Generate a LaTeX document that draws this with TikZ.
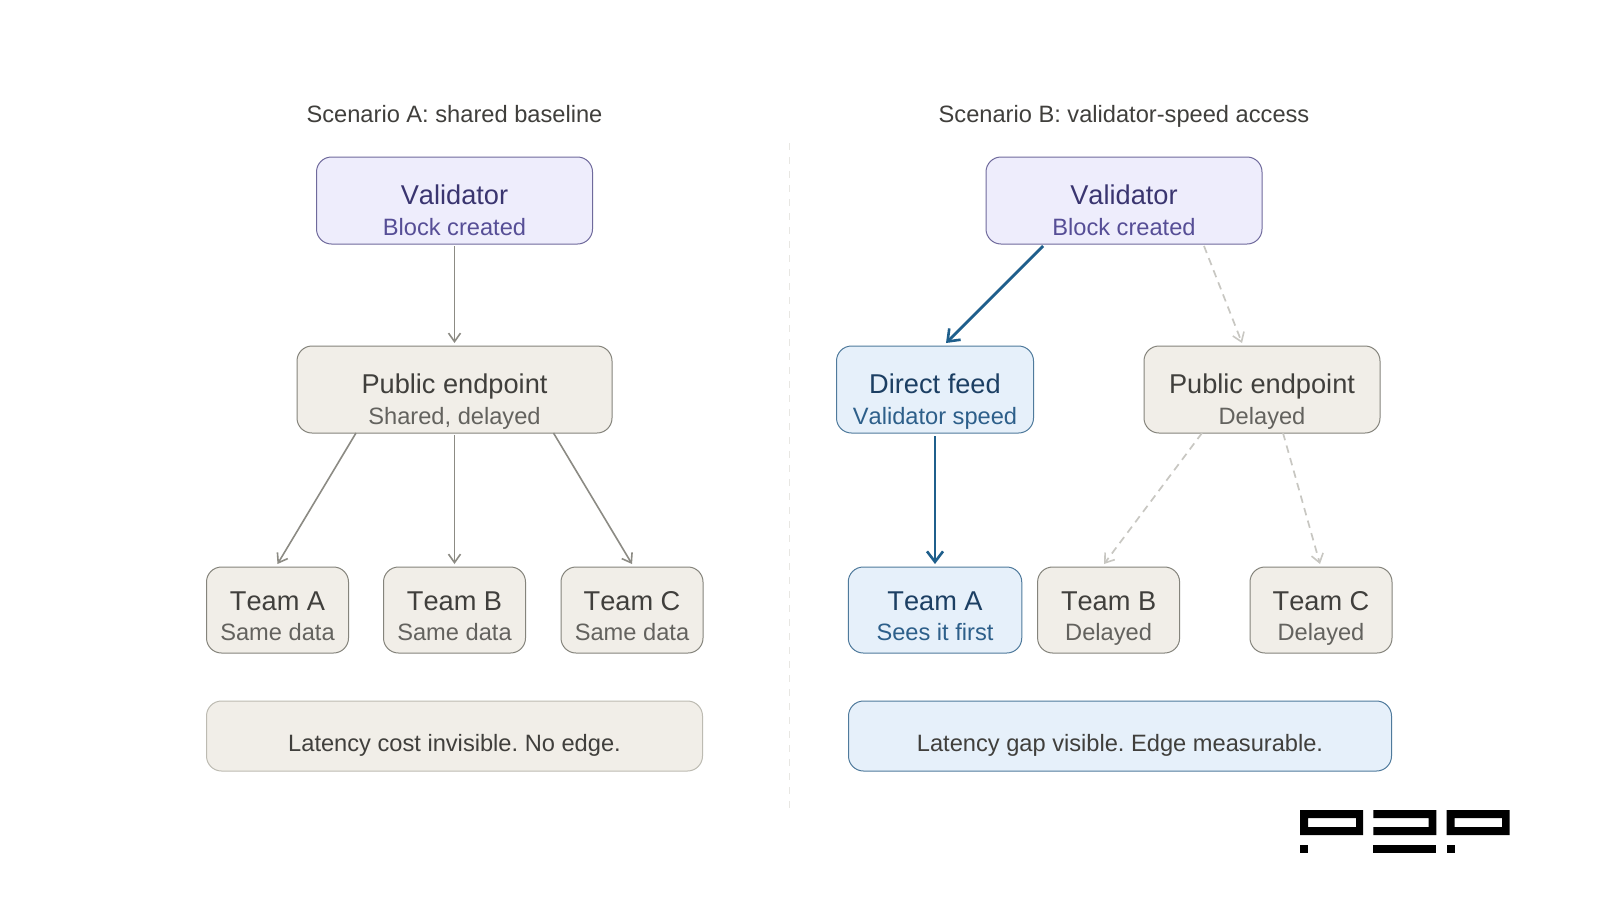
\documentclass[tikz,border=0pt]{standalone}
\usepackage{fontspec}
\setmainfont[Kerning=Off]{Liberation Sans}
\frenchspacing
\usetikzlibrary{arrows.meta}
\definecolor{pfill}{HTML}{EEEDFC}\definecolor{pline}{HTML}{6F6A9C}\definecolor{pmain}{HTML}{3A3570}\definecolor{psub}{HTML}{564E96}
\definecolor{gfill}{HTML}{F1EEE8}\definecolor{gline}{HTML}{85847C}\definecolor{gmain}{HTML}{403F3C}\definecolor{gsub}{HTML}{63625E}
\definecolor{bfill}{HTML}{E6F0FA}\definecolor{bline}{HTML}{4F7A9C}\definecolor{bmain}{HTML}{1C3F63}\definecolor{bsub}{HTML}{2D5F8A}\definecolor{barrow}{HTML}{1F5F8C}
\definecolor{noteline}{HTML}{BDBBB2}\definecolor{arr}{HTML}{8C8B84}\definecolor{dashc}{HTML}{C8C7C2}\definecolor{divider}{HTML}{E8E7E3}
\newcommand{\twolines}[7]{{\rule{0pt}{#5pt}\color{#1}\fontsize{27.2}{#7}\selectfont #3}\\{\color{#2}\fontsize{23.65}{#7}\selectfont #4\rule[-#6pt]{0pt}{#6pt}}}
\tikzset{
 x=1pt,y=-1pt,
 boxbase/.style={rounded corners=15pt,inner ysep=0pt,inner xsep=0pt,outer sep=0pt,align=center,anchor=north,line width=1pt,font=\fontsize{27.2}{31}\selectfont},
 teambase/.style={boxbase,font=\fontsize{27.2}{30}\selectfont},
 purplebox/.style={boxbase,fill=pfill,draw=pline},
 graybox/.style={boxbase,fill=gfill,draw=gline},
 bluebox/.style={boxbase,fill=bfill,draw=bline},
 grayteam/.style={teambase,fill=gfill,draw=gline},
 blueteam/.style={teambase,fill=bfill,draw=bline},
 notebox/.style={rounded corners=15pt,outer sep=0pt,anchor=north,line width=1pt,minimum height=70pt,inner sep=0pt},
 titletext/.style={font=\fontsize{23.65}{28}\selectfont,text=gmain,anchor=base,inner sep=0pt},
 notetext/.style={font=\fontsize{23.65}{28}\selectfont,text=gmain,anchor=base,inner sep=0pt},
 solidarrow/.style={draw=arr,line width=1.6pt,-{Straight Barb[length=8.5pt,width=12pt,line width=1.6pt]}},
 bluearrow/.style={draw=barrow,line width=2.8pt,-{Straight Barb[length=10.5pt,width=16pt,line width=2.6pt]}},
 dasharrow/.style={draw=dashc,line width=1.7pt,dash pattern=on 7.5pt off 5.5pt,-{Straight Barb[length=8.5pt,width=12pt,line width=1.6pt]}},
 dividerline/.style={draw=divider,line width=1pt,dash pattern=on 7pt off 7pt},
}
\begin{document}
\begin{tikzpicture}
\useasboundingbox (0,0) rectangle (1600,900);
\fill[white] (0,0) rectangle (1600,900);
% titles
\node[titletext] (ta) at (454.5,122) {Scenario A: shared baseline};
\node[titletext] (tb) at (1124,122) {Scenario B: validator-speed access};
% divider
\coordinate (d1) at (789,143); \coordinate (d2) at (789,811);
\draw[dividerline] (d1) -- (d2);
% scenario A
\node[purplebox,minimum width=276pt] (va) at (454.5,157) {\twolines{pmain}{psub}{Validator}{Block created}{47}{9}{31}};
\node[graybox,minimum width=315pt] (pa) at (454.5,346) {\twolines{gmain}{gsub}{Public endpoint}{Shared, delayed}{47}{9}{31}};
\node[grayteam,minimum width=142pt] (a1) at (277.5,567) {\twolines{gmain}{gsub}{Team A}{Same data}{43}{13}{30}};
\node[grayteam,minimum width=142pt] (a2) at (454.5,567) {\twolines{gmain}{gsub}{Team B}{Same data}{43}{13}{30}};
\node[grayteam,minimum width=142pt] (a3) at (632,567) {\twolines{gmain}{gsub}{Team C}{Same data}{43}{13}{30}};
\node[notebox,fill=gfill,draw=noteline,minimum width=496pt] (na) at (454.5,701) {};
\node[notetext] (nat) at (454.5,751) {Latency cost invisible. No edge.};
% scenario B
\node[purplebox,minimum width=276pt] (vb) at (1124,157) {\twolines{pmain}{psub}{Validator}{Block created}{47}{9}{31}};
\node[bluebox,minimum width=197pt] (df) at (935,346) {\twolines{bmain}{bsub}{Direct feed}{Validator speed}{47}{9}{31}};
\node[graybox,minimum width=236pt] (pb) at (1262,346) {\twolines{gmain}{gsub}{Public endpoint}{Delayed}{47}{9}{31}};
\node[blueteam,minimum width=173.5pt] (b1) at (935,567) {\twolines{bmain}{bsub}{Team A}{Sees it first}{43}{13}{30}};
\node[grayteam,minimum width=142pt] (b2) at (1108.6,567) {\twolines{gmain}{gsub}{Team B}{Delayed}{43}{13}{30}};
\node[grayteam,minimum width=142pt] (b3) at (1321,567) {\twolines{gmain}{gsub}{Team C}{Delayed}{43}{13}{30}};
\node[notebox,fill=bfill,draw=bline,minimum width=543pt] (nb) at (1120,701) {};
\node[notetext] (nbt) at (1120,751) {Latency gap visible. Edge measurable.};
% connectors A
\draw[solidarrow] ([yshift=-2pt]va.south) -- ([yshift=3pt]pa.north);
\draw[solidarrow] ([xshift=-98.5pt]pa.south) -- ([yshift=3pt]a1.north);
\draw[solidarrow] ([yshift=-2pt]pa.south) -- ([yshift=3pt]a2.north);
\draw[solidarrow] ([xshift=99pt]pa.south) -- ([yshift=3pt]a3.north);
% connectors B
\draw[bluearrow] ([xshift=-81pt,yshift=-2pt]vb.south) -- ([xshift=11pt,yshift=3pt]df.north);
\draw[dasharrow] ([xshift=80pt,yshift=-2pt]vb.south) -- ([xshift=-20pt,yshift=3pt]pb.north);
\draw[bluearrow] ([yshift=-3pt]df.south) -- ([yshift=3pt]b1.north);
\draw[dasharrow] ([xshift=-60pt]pb.south) -- ([xshift=-4.6pt,yshift=3pt]b2.north);
\draw[dasharrow] ([xshift=21pt]pb.south) -- ([xshift=-1pt,yshift=3pt]b3.north);
% logo
\fill[black,even odd rule] (1300,810) rectangle (1363,835) (1308,818) rectangle (1356,827);
\fill[black] (1300,845) rectangle (1308,853);
\fill[black] (1373.3,810) -- (1436.3,810) -- (1436.3,835) -- (1373.3,835) -- (1373.3,827) -- (1428.7,827) -- (1428.7,818) -- (1373.3,818) -- cycle;
\fill[black] (1373.3,845) rectangle (1436.3,853);
\fill[black,even odd rule] (1446.7,810) rectangle (1509.7,835) (1454.7,818) rectangle (1502,827);
\fill[black] (1446.7,845) rectangle (1454.7,853);
\end{tikzpicture}
\end{document}
